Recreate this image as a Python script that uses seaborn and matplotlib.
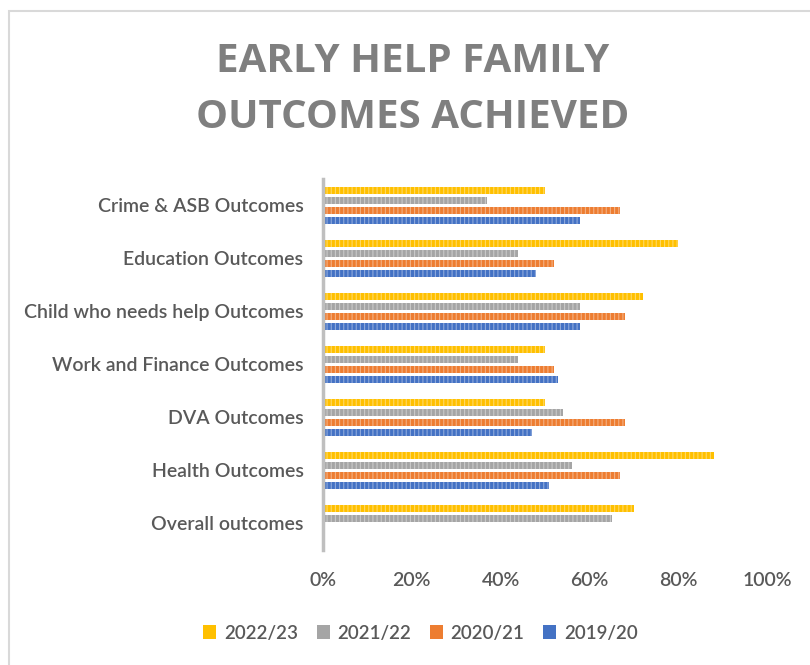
import numpy as np
import pandas as pd
import matplotlib
matplotlib.use("Agg")
import matplotlib.pyplot as plt
import matplotlib.colors as mcolors
from matplotlib.patches import Rectangle
import seaborn as sns

# data (percent)
categories = ["Crime & ASB Outcomes", "Education Outcomes", "Child who needs help Outcomes",
              "Work and Finance Outcomes", "DVA Outcomes", "Health Outcomes", "Overall outcomes"]
years = ["2022/23", "2021/22", "2020/21", "2019/20"]
v_2223 = [50, 80, 72, 50, 50, 88, 70]
v_2122 = [37, 44, 58, 44, 54, 56, 65]
v_2021 = [67, 52, 68, 52, 68, 67, np.nan]
v_1920 = [58, 48, 58, 53, 47, 51, np.nan]
colors = ["#FFC000", "#A5A5A5", "#ED7D31", "#4472C4"]

rows = []
for yr, vals in zip(years, [v_2223, v_2122, v_2021, v_1920]):
    for c, v in zip(categories, vals):
        rows.append({"category": c, "year": yr, "value": v / 100})
df = pd.DataFrame(rows)

sns.set_style("white")
plt.rcParams["font.family"] = ["Lato", "DejaVu Sans"]
plt.rcParams["font.weight"] = "semibold"
plt.rcParams["hatch.linewidth"] = 0.8
txt = "#595959"

fig = plt.figure(figsize=(8.1, 6.65), dpi=100)
ax = fig.add_axes([0.3988, 0.173, 0.548, 0.558])

sns.barplot(data=df, y="category", x="value", hue="year", order=categories,
            hue_order=years, palette=colors, orient="h", width=0.75, gap=0.3,
            saturation=1, ax=ax, legend=True, linewidth=0)

# Excel-like vertical pattern fill (lighter stripes)
for cont, col in zip(ax.containers, colors):
    light = tuple(np.array(mcolors.to_rgb(col)) * 0.6 + 0.4)
    for bar in cont:
        bar.set_edgecolor(light)
        bar.set_hatch("||||")
        bar.set_linewidth(0)

ax.set_xlim(0, 1.0)
ticks = np.arange(0, 1.01, 0.2)
ax.set_xticks(ticks)
ax.set_xticklabels([f"{int(round(t * 100))}%" for t in ticks])
ax.set_xlabel("")
ax.set_ylabel("")
ax.tick_params(axis="y", length=0, pad=14, labelsize=14, labelcolor=txt)
ax.tick_params(axis="x", length=0, pad=16, labelsize=14, labelcolor=txt)
for s in ["top", "right", "bottom"]:
    ax.spines[s].set_visible(False)
ax.spines["left"].set_color("#BFBFBF")
ax.spines["left"].set_linewidth(2.5)
ax.grid(False)

handles, labels = ax.get_legend_handles_labels()
ax.legend_.remove()
fig.legend(handles, labels, loc="center", bbox_to_anchor=(0.519, 0.048), ncol=4,
           frameon=False, fontsize=13.5, labelcolor=txt, handlelength=0.7,
           handleheight=0.7, handletextpad=0.4, columnspacing=1.0)

fig.text(0.509, 0.907, "EARLY HELP FAMILY", ha="center", va="center",
         fontsize=29, fontweight="bold", color="#7F7F7F", family=["Open Sans", "DejaVu Sans"])
fig.text(0.509, 0.824, "OUTCOMES ACHIEVED", ha="center", va="center",
         fontsize=29, fontweight="bold", color="#7F7F7F", family=["Open Sans", "DejaVu Sans"])

# chart area border
fig.patches.append(Rectangle((9 / 810, -0.1), 1.2, 1 - 11 / 665 + 0.1, transform=fig.transFigure,
                             fill=False, edgecolor="#D9D9D9", linewidth=1.5))

fig.savefig("out.png", dpi=100)
